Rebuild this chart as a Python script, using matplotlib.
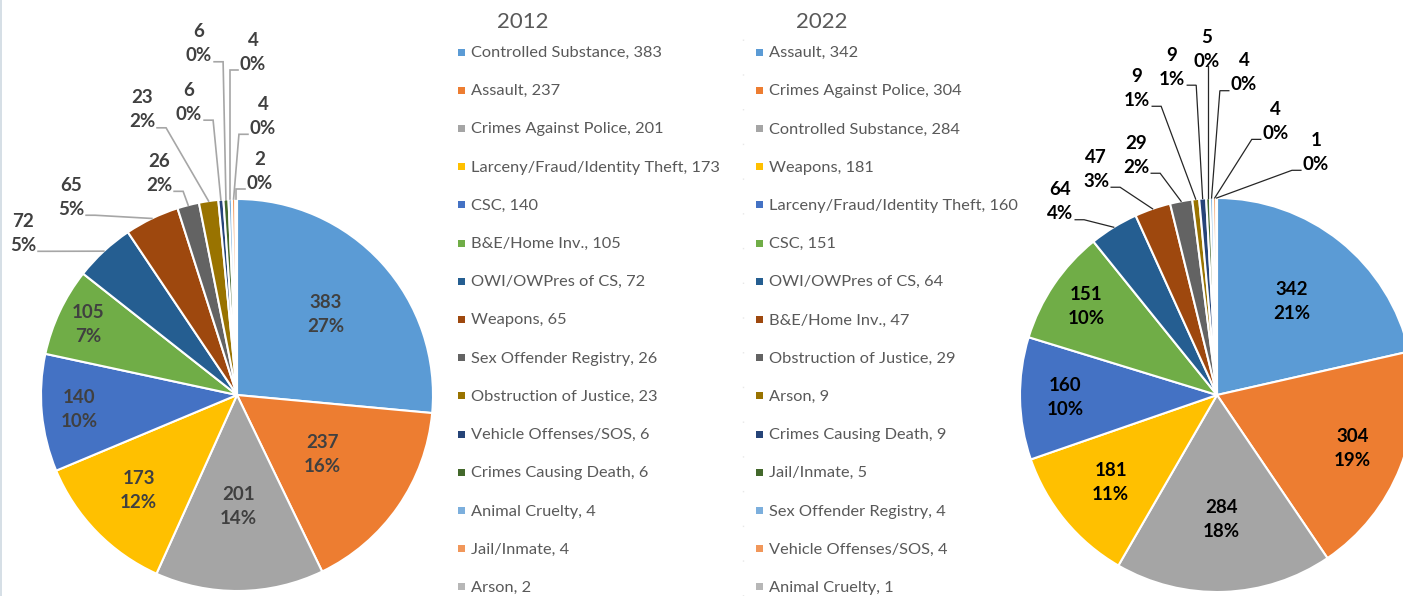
import numpy as np
import matplotlib.pyplot as plt
from matplotlib.patches import Rectangle
from matplotlib.lines import Line2D

plt.rcParams['font.family'] = ['Lato', 'DejaVu Sans']

# data
cats_2012 = ['Controlled Substance', 'Assault', 'Crimes Against Police',
             'Larceny/Fraud/Identity Theft', 'CSC', 'B&E/Home Inv.',
             'OWI/OWPres of CS', 'Weapons', 'Sex Offender Registry',
             'Obstruction of Justice', 'Vehicle Offenses/SOS',
             'Crimes Causing Death', 'Animal Cruelty', 'Jail/Inmate', 'Arson']
vals_2012 = [383, 237, 201, 173, 140, 105, 72, 65, 26, 23, 6, 6, 4, 4, 2]

cats_2022 = ['Assault', 'Crimes Against Police', 'Controlled Substance',
             'Weapons', 'Larceny/Fraud/Identity Theft', 'CSC',
             'OWI/OWPres of CS', 'B&E/Home Inv.', 'Obstruction of Justice',
             'Arson', 'Crimes Causing Death', 'Jail/Inmate',
             'Sex Offender Registry', 'Vehicle Offenses/SOS', 'Animal Cruelty']
vals_2022 = [342, 304, 284, 181, 160, 151, 64, 47, 29, 9, 9, 5, 4, 4, 1]

colors = ['#5B9BD5', '#ED7D31', '#A5A5A5', '#FFC000', '#4472C4', '#70AD47',
          '#255E91', '#9E480E', '#636363', '#997300', '#264478', '#43682B',
          '#7CAFDD', '#F1975A', '#B7B7B7']

# label placement (radius fraction for inside labels, x/y in radius units outside)
inside_2012 = [0.61, 0.53, 0.57, 0.70, 0.81, 0.84]
outside_2012 = [(-1.092, 0.825), (-0.847, 1.009), (-0.398, 1.131), (-0.485, 1.455),
                (-0.245, 1.494), (-0.194, 1.792), (0.082, 1.749), (0.133, 1.422),
                (0.117, 1.142)]
inside_2022 = [0.61, 0.74, 0.63, 0.70, 0.77, 0.80]
outside_2022 = [(-0.797, 0.981), (-0.614, 1.146), (-0.411, 1.217), (-0.406, 1.557),
                (-0.228, 1.664), (-0.051, 1.755), (0.137, 1.636), (0.299, 1.389),
                (0.503, 1.232)]

W, H = 1403, 596
fig = plt.figure(figsize=(W / 100, H / 100), dpi=100)
fig.patch.set_facecolor('white')
fig.add_artist(Rectangle((0, 0), 2 / W, 1, transform=fig.transFigure,
                         color='#D6DFE6', lw=0))


def excel_pct(vals):
    # Excel rounds pie percentages so they add up to 100
    v = np.array(vals, float)
    raw = v / v.sum() * 100
    pct = np.floor(raw).astype(int)
    rem = raw - pct
    for i in np.argsort(-rem, kind='stable')[:100 - pct.sum()]:
        pct[i] += 1
    return pct


def draw_pie(cx, cy, r, vals, inside, outside, tcol):
    ax = fig.add_axes([(cx - r) / W, (H - cy - r) / H, 2 * r / W, 2 * r / H])
    wedges, _ = ax.pie(vals, colors=colors, startangle=90, counterclock=False,
                       wedgeprops=dict(edgecolor='white', linewidth=1.5))
    ax.set_xlim(-1, 1)
    ax.set_ylim(-1, 1)
    pct = excel_pct(vals)
    mids = [np.deg2rad((w.theta1 + w.theta2) / 2) for w in wedges]
    kw = dict(ha='center', va='center', fontsize=13.5, fontweight='bold',
              color=tcol, linespacing=1.5, clip_on=False)
    for i, fr in enumerate(inside):
        ax.text(fr * np.cos(mids[i]), fr * np.sin(mids[i]),
                f'{vals[i]}\n{pct[i]}%', **kw)
    outs = []
    for j, (x, y) in enumerate(outside):
        i = len(inside) + j
        t = ax.text(x, y, f'{vals[i]}\n{pct[i]}%', **kw)
        outs.append((t, i))
    return ax, mids, outs


def leaders(ax, mids, outs, lcol, lw):
    rend = fig.canvas.get_renderer()
    inv = ax.transData.inverted()
    for t, i in outs:
        bb = t.get_window_extent(rend)
        ex, ey = ax.transData.transform((np.cos(mids[i]), np.sin(mids[i])))
        cyp = (bb.y0 + bb.y1) / 2
        if bb.x0 + 3 <= ex <= bb.x1 - 3:
            pts = [(ex, bb.y0 + 4), (ex, ey)]
        else:
            ay = cyp - 18
            if ex > bb.x1:
                a0 = bb.x1 + 2
                hx = a0 + min(9, ex - a0)
            else:
                a0 = bb.x0 - 2
                hx = a0 - min(9, a0 - ex)
            pts = [(a0, ay), (hx, ay), (ex, ey)]
        d = inv.transform(pts)
        ax.plot(d[:, 0], d[:, 1], color=lcol, lw=lw, clip_on=False,
                solid_joinstyle='miter')


ax1, m1, o1 = draw_pie(237, 395, 196, vals_2012, inside_2012, outside_2012, '#404040')
ax2, m2, o2 = draw_pie(1217, 395, 197, vals_2022, inside_2022, outside_2022, 'black')
fig.canvas.draw()
leaders(ax1, m1, o1, '#A6A6A6', 1.2)
leaders(ax2, m2, o2, '#262626', 0.9)

# legend: two columns, one per year
fig.text(523 / W, 1 - 22 / H, '2012', ha='center', va='center',
         fontsize=16, color='#595959')
fig.text(822 / W, 1 - 22 / H, '2022', ha='center', va='center',
         fontsize=16, color='#595959')
fig.add_artist(Line2D([743 / W, 743 / W], [0, 1 - 25 / H], transform=fig.transFigure,
                      color='#E8E8E8', lw=1, linestyle=(0, (1, 24))))
y0, step = 52, 38.21
for col, (cats, vals, mx) in enumerate([(cats_2012, vals_2012, 461),
                                         (cats_2022, vals_2022, 759)]):
    for k, (c, v) in enumerate(zip(cats, vals)):
        y = y0 + k * step
        fig.add_artist(Rectangle(((mx - 3.5) / W, 1 - (y + 3.5) / H), 7 / W, 7 / H,
                                 transform=fig.transFigure, color=colors[k], lw=0))
        fig.text((mx + 10) / W, 1 - (y + 1) / H, f'{c}, {v}', ha='left', va='center',
                 fontsize=11.8, color='#595959')

fig.savefig('out.png', dpi=100)
